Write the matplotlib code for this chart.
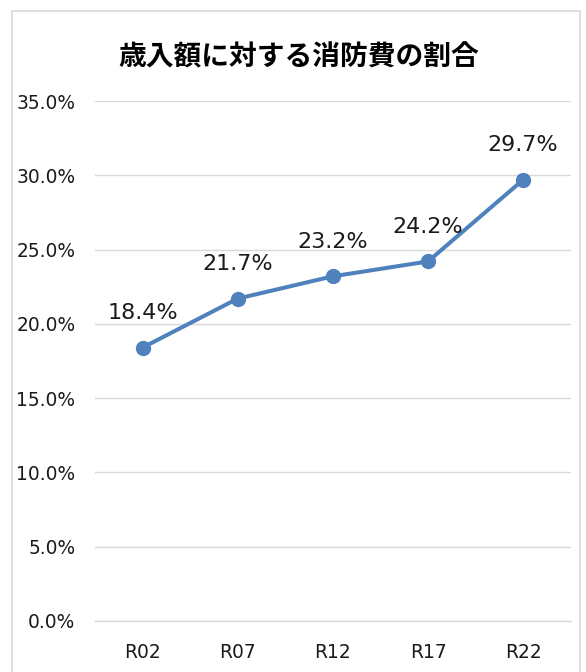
import matplotlib.pyplot as plt
from matplotlib.patches import Rectangle
from matplotlib.ticker import FuncFormatter

# data
years = ['R02', 'R07', 'R12', 'R17', 'R22']
ratio = [18.4, 21.7, 23.2, 24.2, 29.7]
yticks = [0, 5, 10, 15, 20, 25, 30, 35]
title = '歳入額に対する消防費の割合'

plt.rcParams['font.family'] = ['DejaVu Sans']

fig = plt.figure(figsize=(5.86, 6.72), dpi=100)
fig.patches.append(Rectangle((0.0205, -0.01), 0.969, 0.9936, transform=fig.transFigure,
                             fill=False, edgecolor='#D9D9D9', linewidth=1.2))

ax = fig.add_axes([0.162, 0.0759, 0.812, 0.7738])
x = range(len(years))
ax.plot(x, ratio, color='#4F81BD', linewidth=2.9, marker='o', markersize=10, zorder=3)

for xi, v in zip(x, ratio):
    ax.annotate(f'{v:.1f}%', (xi, v), xytext=(0, 25), textcoords='offset points',
                ha='center', va='center', fontsize=16, color='#1a1a1a')

ax.set_xlim(-0.5, len(years) - 0.5)
ax.set_ylim(0, 35)
ax.set_yticks(yticks)
ax.yaxis.set_major_formatter(FuncFormatter(lambda v, p: f'{v:.1f}%'))
ax.set_xticks(list(x))
ax.set_xticklabels(years)
ax.grid(axis='y', color='#D9D9D9', linewidth=1.0)
ax.set_axisbelow(True)
for s in ['top', 'right', 'left']:
    ax.spines[s].set_visible(False)
ax.spines['bottom'].set_color('#D9D9D9')
ax.spines['bottom'].set_linewidth(1.0)
ax.tick_params(axis='y', length=0, pad=14, labelsize=13.4, labelcolor='#1a1a1a')
ax.tick_params(axis='x', length=0, pad=16, labelsize=13.4, labelcolor='#1a1a1a')

fig.text(0.509, 0.915, title, ha='center', va='center', fontsize=20, fontweight='bold',
         family=['Noto Sans CJK JP', 'DejaVu Sans'])

fig.savefig('out.png', dpi=100)
